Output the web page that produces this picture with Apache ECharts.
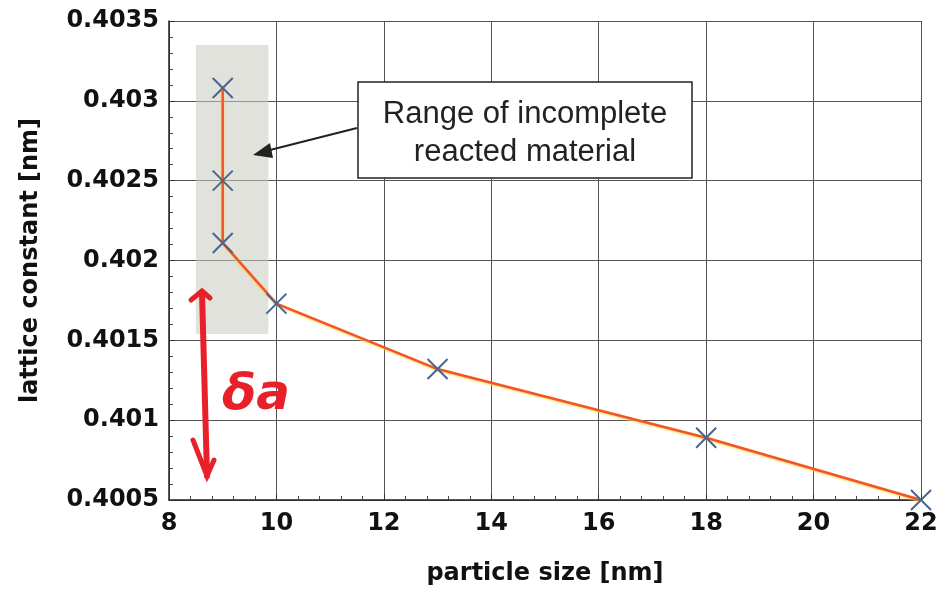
<!DOCTYPE html>
<html><head><meta charset="utf-8">
<script src="https://cdn.jsdelivr.net/npm/echarts@6/dist/echarts.min.js"></script>
<style>html,body{margin:0;padding:0;background:#fff}#c{width:943px;height:592px}</style>
</head><body><div id="c"></div>
<script>
const particleSize = [9, 9, 9, 10, 13, 18, 22];
const latticeConstant = [0.40308, 0.40250, 0.40211, 0.40173, 0.40132, 0.40089, 0.40050];
const shadedX = [8.5, 9.85];
const shadedY = [0.40154, 0.40335];
const xTicks = [8, 22, 2];
const yTicks = [0.4005, 0.4035, 0.0005];
const annotationText = ['Range of incomplete', 'reacted material'];
const xName = 'particle size [nm]';
const yName = 'lattice constant [nm]';

const chart = echarts.init(document.getElementById('c'));
const font = 'Liberation Sans, Arial, Helvetica, sans-serif';
const boldFont = 'DejaVu Sans';
chart.setOption({
  animation: false,
  backgroundColor: '#fff',
  grid: {left: 169, right: 22, top: 21, bottom: 92},
  xAxis: {
    type: 'value', min: xTicks[0], max: xTicks[1], interval: xTicks[2],
    name: xName, nameLocation: 'middle', nameGap: 62,
    nameTextStyle: {fontFamily: boldFont, fontWeight: 'bold', fontSize: 24, color: '#111'},
    axisLine: {lineStyle: {color: '#222', width: 1.5}},
    axisTick: {inside: true, length: 6, lineStyle: {color: '#333'}},
    minorTick: {show: true, splitNumber: 5, length: 4, lineStyle: {color: '#444'}},
    axisLabel: {fontFamily: boldFont, fontWeight: 'bold', fontSize: 24, color: '#111', margin: 12},
    splitLine: {lineStyle: {color: '#555', width: 1}}
  },
  yAxis: {
    type: 'value', min: yTicks[0], max: yTicks[1], interval: yTicks[2],
    name: yName, nameLocation: 'middle', nameGap: 126,
    nameTextStyle: {fontFamily: boldFont, fontWeight: 'bold', fontSize: 24, color: '#111'},
    axisLine: {show: true, lineStyle: {color: '#222', width: 1.5}},
    axisTick: {show: true, inside: true, length: 6, lineStyle: {color: '#333'}},
    minorTick: {show: true, splitNumber: 5, length: 4, lineStyle: {color: '#444'}},
    axisLabel: {fontFamily: boldFont, fontWeight: 'bold', fontSize: 24, color: '#111', margin: 10,
      formatter: v => String(parseFloat(v.toFixed(4)))},
    splitLine: {lineStyle: {color: '#555', width: 1}}
  },
  series: [{
    type: 'line',
    data: particleSize.map((x, i) => [x, latticeConstant[i]]),
    symbol: 'path://M0,0L10,10M10,0L0,10',
    symbolSize: 20,
    showAllSymbol: true,
    lineStyle: {color: '#f2542a', width: 2.5, shadowColor: 'rgba(255,210,60,0.9)', shadowBlur: 2, shadowOffsetY: 1},
    itemStyle: {color: 'none', borderColor: '#48658f', borderWidth: 2},
    z: 5,
    markArea: {
      silent: true,
      itemStyle: {
        color: 'rgba(200,202,192,0.55)',
        decal: {symbol: 'rect', symbolSize: 1, dashArrayX: [[5, 3]], dashArrayY: [1.5, 3], color: 'rgba(110,120,125,0.45)'}
      },
      data: [[{xAxis: shadedX[0], yAxis: shadedY[0]}, {xAxis: shadedX[1], yAxis: shadedY[1]}]]
    }
  }],
  graphic: [
    {type: 'rect', shape: {x: 358, y: 82, width: 334, height: 96},
     style: {fill: '#fff', stroke: '#222', lineWidth: 1.5}, z: 10},
    {type: 'text', x: 525, y: 114, z: 11,
     style: {text: annotationText[0], fontFamily: font, fontSize: 31, fill: '#222', align: 'center', verticalAlign: 'middle'}},
    {type: 'text', x: 525, y: 152, z: 11,
     style: {text: annotationText[1], fontFamily: font, fontSize: 31, fill: '#222', align: 'center', verticalAlign: 'middle'}},
    {type: 'line', shape: {x1: 357, y1: 128, x2: 266, y2: 151}, style: {stroke: '#222', lineWidth: 2}, z: 11},
    {type: 'polygon', shape: {points: [[253, 155], [270, 143], [273, 158]]}, style: {fill: '#222'}, z: 11},
    // red handwritten mark
    {type: 'line', shape: {x1: 202, y1: 292, x2: 207, y2: 476}, style: {stroke: '#e8202a', lineWidth: 6, lineCap: 'round'}, z: 12},
    {type: 'polyline', shape: {points: [[191, 300], [202, 291], [210, 298]]}, style: {stroke: '#e8202a', lineWidth: 5, lineCap: 'round', fill: null}, z: 12},
    {type: 'polyline', shape: {points: [[193, 440], [207, 476], [214, 460]]}, style: {stroke: '#e8202a', lineWidth: 5, lineCap: 'round', fill: null}, z: 12},
    {type: 'text', x: 222, y: 396, z: 12,
     style: {text: 'δa', fontFamily: 'DejaVu Sans', fontStyle: 'italic', fontWeight: 'bold', fontSize: 50, fill: '#e8202a', verticalAlign: 'middle'}}
  ]
});
</script></body></html>
